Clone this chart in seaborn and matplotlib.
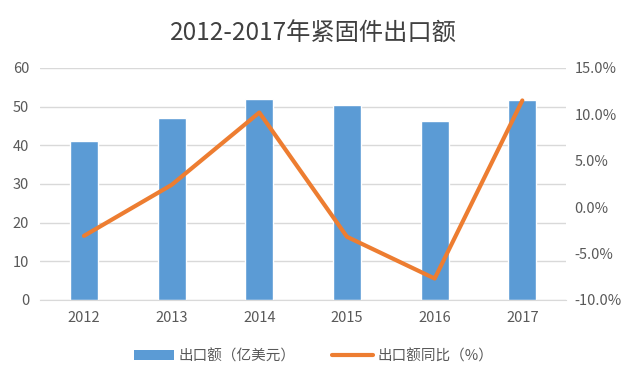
import numpy as np
import pandas as pd
import matplotlib
matplotlib.use("Agg")
import matplotlib.pyplot as plt
from matplotlib.ticker import FuncFormatter
from matplotlib.patches import Patch
from matplotlib.lines import Line2D
import seaborn as sns

# data
years = ["2012", "2013", "2014", "2015", "2016", "2017"]
export_value = [41.1, 47.0, 51.9, 50.3, 46.4, 51.6]   # 亿美元
export_yoy = [-3.1, 2.4, 10.2, -3.2, -7.7, 11.5]       # %

sns.set_style("white")
plt.rcParams['font.family'] = ['Noto Sans CJK SC', 'DejaVu Sans']

blue = "#5B9BD5"
orange = "#ED7D31"
grey = "#595959"

df = pd.DataFrame({"year": years, "value": export_value, "yoy": export_yoy})

fig = plt.figure(figsize=(6.27, 3.82), dpi=100)
ax = fig.add_axes([0.064, 0.215, 0.839, 0.607])

sns.barplot(data=df, x="year", y="value", color=blue, width=0.32,
            saturation=1, ax=ax, zorder=2)
ax.set_ylim(0, 60)
ax.set_yticks(range(0, 61, 10))
ax.grid(axis="y", color="#D9D9D9", linewidth=1, zorder=0)
ax.set_axisbelow(True)
ax.set_xlabel("")
ax.set_ylabel("")
for s in ax.spines.values():
    s.set_visible(False)
ax.spines["bottom"].set_visible(True)
ax.spines["bottom"].set_color("#D9D9D9")
ax.tick_params(axis="both", length=0, labelsize=10.5, colors=grey, pad=8)
ax.set_xlim(-0.5, len(years) - 0.5)

ax2 = ax.twinx()
sns.lineplot(x=np.arange(len(years)), y=df["yoy"], color=orange, linewidth=3,
             ax=ax2, zorder=3)
ax2.set_ylim(-10, 15)
ax2.set_yticks(np.arange(-10, 15.1, 5))
ax2.yaxis.set_major_formatter(FuncFormatter(lambda v, p: f"{v:.1f}%"))
ax2.set_ylabel("")
for s in ax2.spines.values():
    s.set_visible(False)
ax2.tick_params(axis="y", length=0, labelsize=10.5, colors=grey, pad=6)

fig.suptitle("2012-2017年紧固件出口额", x=0.5, y=0.945, fontsize=17.5, color="#404040")

handles = [Patch(facecolor=blue, edgecolor="none"),
           Line2D([0], [0], color=orange, linewidth=3)]
fig.legend(handles, ["出口额（亿美元）", "出口额同比（%）"], loc="center",
           bbox_to_anchor=(0.5, 0.068), ncol=2, frameon=False, fontsize=10.5,
           labelcolor=grey, handlelength=2.8, columnspacing=2.5, handletextpad=0.3)

fig.savefig("out.png", dpi=100)
